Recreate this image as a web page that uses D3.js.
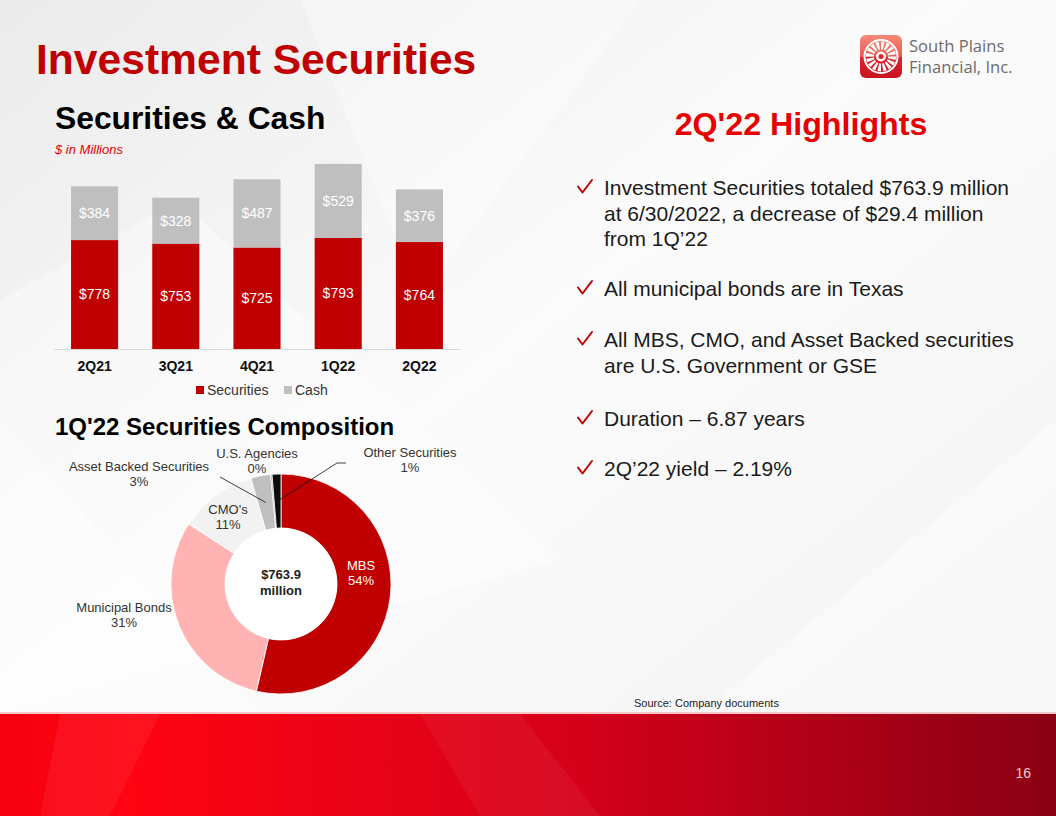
<!DOCTYPE html>
<html>
<head>
<meta charset="utf-8">
<script src="https://cdn.jsdelivr.net/npm/d3@7"></script>
<style>
  body { margin: 0; background: #fff; }
  svg { display: block; font-family: "Liberation Sans", Arial, sans-serif; }
</style>
</head>
<body>
<div id="slide"></div>
<script>
// bar chart data ($ in millions)
var quarters = ["2Q21", "3Q21", "4Q21", "1Q22", "2Q22"];
var securities = [778, 753, 725, 793, 764];
var cash = [384, 328, 487, 529, 376];
var seriesNames = ["Securities", "Cash"];

// composition data (share of portfolio, %)
var compNames = ["MBS", "Municipal Bonds", "CMO's", "Asset Backed Securities", "U.S. Agencies", "Other Securities"];
var compShares = [53.6, 30.6, 11.4, 2.9, 0.2, 1.3];
var compTotal = "$763.9";

var highlights = [
  ["Investment Securities totaled $763.9 million", "at 6/30/2022, a decrease of $29.4 million", "from 1Q\u201922"],
  ["All municipal bonds are in Texas"],
  ["All MBS, CMO, and Asset Backed securities", "are U.S. Government or GSE"],
  ["Duration \u2013 6.87 years"],
  ["2Q\u201922 yield \u2013 2.19%"]
];

var W = 1056, H = 816;
var red = "#c00000";

var svg = d3.select("#slide").append("svg")
  .attr("width", W)
  .attr("height", H);

// background
var defs = svg.append("defs");
var bg = defs.append("linearGradient").attr("id", "bg").attr("x1", 0).attr("y1", 0).attr("x2", 1).attr("y2", 1);
bg.append("stop").attr("offset", "0%").attr("stop-color", "#ebebeb");
bg.append("stop").attr("offset", "45%").attr("stop-color", "#fbfbfb");
bg.append("stop").attr("offset", "100%").attr("stop-color", "#f3f3f3");

var foot = defs.append("linearGradient").attr("id", "foot").attr("x1", 0).attr("y1", 0).attr("x2", 1).attr("y2", 0);
foot.append("stop").attr("offset", "0%").attr("stop-color", "#f5000f");
foot.append("stop").attr("offset", "12%").attr("stop-color", "#ff0412");
foot.append("stop").attr("offset", "55%").attr("stop-color", "#d5001a");
foot.append("stop").attr("offset", "100%").attr("stop-color", "#8a0014");

var logoGrad = defs.append("linearGradient").attr("id", "logo").attr("x1", 0).attr("y1", 0).attr("x2", 0).attr("y2", 1);
logoGrad.append("stop").attr("offset", "0%").attr("stop-color", "#f58a78");
logoGrad.append("stop").attr("offset", "50%").attr("stop-color", "#ea5a50");
logoGrad.append("stop").attr("offset", "52%").attr("stop-color", "#d9242c");
logoGrad.append("stop").attr("offset", "100%").attr("stop-color", "#c8141e");

svg.append("rect").attr("width", W).attr("height", H).attr("fill", "url(#bg)");

// soft diagonal shapes in the background
var shapes = [
  [[0, 300], [180, 200], [560, 560], [0, 714]],
  [[0, 420], [260, 714], [0, 714]],
  [[300, 0], [640, 0], [420, 300]],
  [[700, 714], [1056, 420], [1056, 714]]
];
svg.selectAll("polygon.bgshape")
  .data(shapes)
  .enter()
  .append("polygon")
  .attr("class", "bgshape")
  .attr("points", d => d.map(p => p.join(",")).join(" "))
  .attr("fill", "#ffffff")
  .attr("opacity", 0.35);

// footer band
svg.append("rect").attr("x", 0).attr("y", 714).attr("width", W).attr("height", H - 714).attr("fill", "url(#foot)");
svg.append("rect").attr("x", 0).attr("y", 712).attr("width", W).attr("height", 2).attr("fill", "#f4c8c8");
svg.append("polygon")
  .attr("points", "60,714 160,714 110,816 40,816")
  .attr("fill", "#ffffff").attr("opacity", 0.06);
svg.append("polygon")
  .attr("points", "420,714 520,714 600,816 480,816")
  .attr("fill", "#ffffff").attr("opacity", 0.05);

svg.append("text")
  .attr("x", 1031).attr("y", 778)
  .attr("text-anchor", "end")
  .attr("font-family", "'Liberation Sans Narrow', 'Liberation Sans', sans-serif")
  .attr("font-size", "14px")
  .attr("fill", "#e8d0d0")
  .text("16");

// titles
svg.append("text")
  .attr("x", 36).attr("y", 74)
  .attr("font-size", "42.6px").attr("font-weight", "bold")
  .attr("fill", red)
  .text("Investment Securities");

svg.append("text")
  .attr("x", 55).attr("y", 129)
  .attr("font-size", "31.8px").attr("font-weight", "bold")
  .attr("fill", "#000")
  .text("Securities & Cash");

svg.append("text")
  .attr("x", 55).attr("y", 154)
  .attr("font-size", "13px").attr("font-style", "italic")
  .attr("fill", "#e00000")
  .text("$ in Millions");

svg.append("text")
  .attr("x", 55).attr("y", 435)
  .attr("font-size", "24px").attr("font-weight", "bold")
  .attr("fill", "#000")
  .text("1Q'22 Securities Composition");

svg.append("text")
  .attr("x", 801).attr("y", 135)
  .attr("text-anchor", "middle")
  .attr("font-size", "32.2px").attr("font-weight", "bold")
  .attr("fill", "#e60000")
  .text("2Q'22 Highlights");

// logo
var logo = svg.append("g").attr("transform", "translate(860, 35)");
logo.append("rect").attr("width", 42).attr("height", 43).attr("rx", 6).attr("fill", "url(#logo)");
var wheel = logo.append("g").attr("transform", "translate(21, 21.5)");
wheel.append("circle").attr("r", 16.5).attr("fill", "none").attr("stroke", "#fff").attr("stroke-width", 2);
wheel.selectAll("path")
  .data(d3.range(16))
  .enter()
  .append("path")
  .attr("d", d3.arc().innerRadius(7).outerRadius(15).startAngle(0).endAngle(Math.PI / 8 * 0.62))
  .attr("transform", d => `rotate(${d * 22.5})`)
  .attr("fill", "#fff");
wheel.append("circle").attr("r", 5).attr("fill", "#fff");
wheel.append("circle").attr("r", 2.5).attr("fill", "#d9242c");

var logoFont = "'Open Sans', 'Noto Sans', sans-serif";
svg.append("text")
  .attr("x", 909).attr("y", 52)
  .attr("font-family", logoFont)
  .attr("font-size", "16.6px")
  .attr("fill", "#6b6b6b")
  .text("South Plains");
svg.append("text")
  .attr("x", 909).attr("y", 73)
  .attr("font-family", logoFont)
  .attr("font-size", "16.6px")
  .attr("fill", "#6b6b6b")
  .text("Financial, Inc.");

// ---------- stacked bar chart ----------
var barData = quarters.map((q, i) => ({ quarter: q, Securities: securities[i], Cash: cash[i] }));
var stack = d3.stack().keys(seriesNames)(barData);

var x = d3.scaleBand()
  .domain(quarters)
  .range([54, 460])
  .paddingInner(0.42)
  .paddingOuter(0.21);

var y = d3.scaleLinear()
  .domain([0, 1400])
  .range([349, 153]);

var color = d3.scaleOrdinal().domain(seriesNames).range([red, "#bfbfbf"]);

var barGroup = svg.append("g");

var layers = barGroup.selectAll("g.layer")
  .data(stack)
  .enter()
  .append("g")
  .attr("class", "layer")
  .attr("fill", d => color(d.key));

layers.selectAll("rect")
  .data(d => d)
  .enter()
  .append("rect")
  .attr("x", d => x(d.data.quarter))
  .attr("y", d => y(d[1]))
  .attr("width", x.bandwidth())
  .attr("height", d => y(d[0]) - y(d[1]));

layers.selectAll("text")
  .data(d => d.map(v => ({ v: v, key: d.key })))
  .enter()
  .append("text")
  .attr("x", d => x(d.v.data.quarter) + x.bandwidth() / 2)
  .attr("y", d => (y(d.v[0]) + y(d.v[1])) / 2)
  .attr("dy", "0.35em")
  .attr("text-anchor", "middle")
  .attr("font-size", "14px")
  .attr("fill", "#fff")
  .text(d => "$" + d.v.data[d.key]);

var xAxis = d3.axisBottom(x).tickSize(0).tickPadding(12);
var axisG = barGroup.append("g")
  .attr("transform", `translate(0, ${y(0)})`)
  .call(xAxis);
axisG.select(".domain").attr("stroke", "#d9d9d9").attr("stroke-width", 1);
axisG.selectAll("text")
  .attr("font-family", "'Liberation Sans', Arial, sans-serif")
  .attr("font-size", "14px")
  .attr("font-weight", "bold")
  .attr("fill", "#111");

// legend
var legend = barGroup.selectAll("g.legend")
  .data(seriesNames)
  .enter()
  .append("g")
  .attr("class", "legend")
  .attr("transform", (d, i) => `translate(${i === 0 ? 196 : 284}, 390)`);
legend.append("rect")
  .attr("x", 0).attr("y", -4)
  .attr("width", 8).attr("height", 8)
  .attr("fill", d => color(d));
legend.append("text")
  .attr("x", 11).attr("dy", "0.36em")
  .attr("font-size", "14px")
  .attr("fill", "#333")
  .text(d => d);

// ---------- donut ----------
var cx = 281, cy = 584;
var outerR = 110, innerR = 56;
var compColors = ["#c00000", "#ffb3b3", "#f2f2f2", "#bfbfbf", "#7f7f7f", "#0d0d0d"];

var pie = d3.pie().sort(null).value(d => d);
var arcs = pie(compShares);
var arc = d3.arc().innerRadius(innerR).outerRadius(outerR);
var leaderArc = d3.arc().innerRadius(83).outerRadius(83);

var donut = svg.append("g").attr("transform", `translate(${cx}, ${cy})`);

donut.selectAll("path.slice")
  .data(arcs)
  .enter()
  .append("path")
  .attr("class", "slice")
  .attr("d", arc)
  .attr("fill", (d, i) => compColors[i])
  .attr("stroke", "#fff")
  .attr("stroke-width", 0.8);

donut.append("circle").attr("r", innerR).attr("fill", "#fff");

var centerText = donut.append("text")
  .attr("text-anchor", "middle")
  .attr("font-size", "13px")
  .attr("font-weight", "bold")
  .attr("fill", "#222");
centerText.append("tspan").attr("x", 0).attr("y", -5).text(compTotal);
centerText.append("tspan").attr("x", 0).attr("y", 11).text("million");

// label placement, relative to donut centre
var labelPos = [
  [80, -14],    // MBS
  [-157, 28],   // Municipal Bonds
  [-53, -70],   // CMO's
  [-142, -113], // Asset Backed Securities
  [-24, -126],  // U.S. Agencies
  [129, -127]   // Other Securities
];

var labels = donut.selectAll("text.lbl")
  .data(arcs)
  .enter()
  .append("text")
  .attr("class", "lbl")
  .attr("text-anchor", "middle")
  .attr("font-size", "13px")
  .attr("fill", (d, i) => i === 0 ? "#fff" : "#333");
labels.append("tspan")
  .attr("x", (d, i) => labelPos[i][0])
  .attr("y", (d, i) => labelPos[i][1])
  .text((d, i) => compNames[i]);
labels.append("tspan")
  .attr("x", (d, i) => labelPos[i][0])
  .attr("y", (d, i) => labelPos[i][1] + 15)
  .text(d => Math.round(d.data) + "%");

// leader lines for the small slices
var leaders = [
  { i: 3, from: [[-61, -107]] },
  { i: 5, from: [[65, -121], [56, -121]] }
];
donut.selectAll("polyline.leader")
  .data(leaders)
  .enter()
  .append("polyline")
  .attr("class", "leader")
  .attr("points", d => d.from.concat([leaderArc.centroid(arcs[d.i])]).map(p => p.join(",")).join(" "))
  .attr("fill", "none")
  .attr("stroke", "#111")
  .attr("stroke-width", 0.8);

// ---------- highlights ----------
var lineH = 25.7;
var blockGap = [0, 101, 152, 231, 281];
var hl = svg.append("g").attr("transform", "translate(0, 195)");
var items = hl.selectAll("g.item")
  .data(highlights)
  .enter()
  .append("g")
  .attr("class", "item")
  .attr("transform", (d, i) => `translate(0, ${blockGap[i]})`);
// check mark bullet
items.append("path")
  .attr("d", "M578,-8.5 L582.5,-2.5 L592,-15")
  .attr("fill", "none")
  .attr("stroke", red)
  .attr("stroke-width", 2)
  .attr("stroke-linecap", "round")
  .attr("stroke-linejoin", "round");
items.selectAll("text.line")
  .data(d => d)
  .enter()
  .append("text")
  .attr("class", "line")
  .attr("x", 604)
  .attr("y", (d, j) => j * lineH)
  .attr("font-size", "21px")
  .attr("fill", "#1a1a1a")
  .text(d => d);

svg.append("text")
  .attr("x", 634).attr("y", 707)
  .attr("font-family", "'Liberation Sans Narrow', 'Liberation Sans', sans-serif")
  .attr("font-size", "11px")
  .attr("fill", "#222")
  .text("Source: Company documents");
</script>
</body>
</html>
